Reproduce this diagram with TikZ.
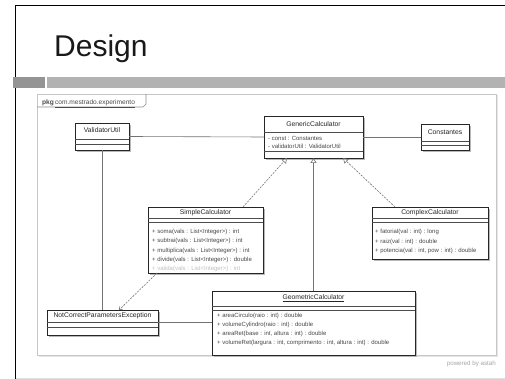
\documentclass[tikz,border=0pt]{standalone}
\usepackage{fontspec}
\setmainfont{Liberation Sans}
\usetikzlibrary{arrows.meta,calc}
\newcommand\umlbox[5]{%
  \fill[black!28] (#2+1.8,#3+1.8) rectangle ++(#4,#5);
  \node[cls, minimum width=#4pt, minimum height=#5pt] (#1) at (#2,#3) {};
}
\begin{document}
\begin{tikzpicture}[x=1pt,y=-1pt,
  cls/.style={draw=black!85, line width=0.9pt, fill=white, rectangle, inner sep=0pt, outer sep=0pt, anchor=north west},
  ttl/.style={font=\fontsize{6.8}{7}\selectfont, text=black!85, inner sep=0pt},
  mth/.style={font=\fontsize{6}{6.5}\selectfont, text=black!72, anchor=west, inner sep=0pt},
  cmp/.style={draw=black!70, line width=0.5pt},
  assoc/.style={draw=black!55, line width=0.6pt},
  real/.style={draw=black!55, line width=0.6pt, dash pattern=on 2pt off 1.2pt, -{Triangle[open,length=5pt,width=6pt]}},
  genz/.style={draw=black!55, line width=0.6pt, -{Triangle[open,length=5pt,width=6pt]}},
  dep/.style={draw=black!55, line width=0.6pt, dash pattern=on 2pt off 1.2pt, -{Straight Barb[length=2.5pt,width=4pt]}}
]
\useasboundingbox (0,0) rectangle (505,379);
\fill[white] (0,0) rectangle (505,379);
% slide
\draw[black, line width=1.1pt] (15.5,379) -- (15.5,5.5) -- (505,5.5);
\node[anchor=base west, inner sep=0pt, font=\fontsize{30}{32}\selectfont, text=black!90] (title) at (54,57) {Design};
\fill[black!42] (13,77) rectangle (45,88);
\fill[black!30] (47,77) rectangle (505,88);
\draw[black!12, line width=0.6pt] (16,378) -- (505,378);
% diagram frame
\fill[black!10] (38.5,95.5) rectangle (497.5,356.5);
\draw[black!22, line width=0.7pt, fill=white] (37,94) rectangle (496,355);
\draw[black!45, line width=0.6pt] (37,107) -- (143,107) -- (146,104) -- (146,94);
\node[anchor=base west, inner sep=0pt, font=\fontsize{6.6}{7}\selectfont, text=black!70] (pkg) at (42,104.5) {\textbf{pkg}\,\underline{com.mestrado.experimento}};
% classes
\umlbox{vu}{75}{123}{54}{27}
\draw[cmp] ($(vu.north west)+(0,16)$) -- ++(54,0);
\draw[cmp] ($(vu.north west)+(0,21)$) -- ++(54,0);
\node[ttl] at ($(vu.north)+(0,7.5)$) {ValidatorUtil};

\umlbox{gc}{264}{116}{99}{42}
\draw[cmp] ($(gc.north west)+(0,16)$) -- ++(99,0);
\draw[cmp] ($(gc.north west)+(0,35)$) -- ++(99,0);
\node[ttl] at ($(gc.north)+(0,8)$) {GenericCalculator};
\node[mth] at (268,138.5) {- const : Constantes};
\node[mth] at (268,146.5) {- validatorUtil : ValidatorUtil};

\umlbox{co}{421}{124}{48}{26}
\draw[cmp] ($(co.north west)+(0,17)$) -- ++(48,0);
\draw[cmp] ($(co.north west)+(0,21.5)$) -- ++(48,0);
\node[ttl] at ($(co.north)+(0,8.5)$) {Constantes};

\umlbox{sc}{148}{207}{115}{66}
\draw[cmp] ($(sc.north west)+(0,11)$) -- ++(115,0);
\draw[cmp] ($(sc.north west)+(0,15)$) -- ++(115,0);
\node[ttl] at ($(sc.north)+(0,5.5)$) {SimpleCalculator};
\node[mth] at (152,232) {+ soma(vals : List<Integer>) : int};
\node[mth] at (152,241) {+ subtrai(vals : List<Integer>) : int};
\node[mth] at (152,250.5) {+ multiplica(vals : List<Integer>) : int};
\node[mth] at (152,259.5) {+ divide(vals : List<Integer>) : double};
\node[mth, text=black!25] at (152,268.5) {+ valida(vals : List<Integer>) : int};

\umlbox{cc}{372}{207}{116}{52}
\draw[cmp] ($(cc.north west)+(0,11)$) -- ++(116,0);
\draw[cmp] ($(cc.north west)+(0,15)$) -- ++(116,0);
\node[ttl] at ($(cc.north)+(0,5.5)$) {ComplexCalculator};
\node[mth] at (375,232) {+ fatorial(val : int) : long};
\node[mth] at (375,241.5) {+ raiz(val : int) : double};
\node[mth] at (375,251) {+ potencia(val : int, pow : int) : double};

\umlbox{ne}{47}{310}{111}{25}
\draw[cmp] ($(ne.north west)+(0,12)$) -- ++(111,0);
\draw[cmp] ($(ne.north west)+(0,17.5)$) -- ++(111,0);
\node[ttl] at ($(ne.north)+(0,6)$) {NotCorrectParametersException};

\umlbox{gm}{212}{291}{203}{64}
\draw[cmp] ($(gm.north west)+(0,15)$) -- ++(203,0);
\draw[cmp] ($(gm.north west)+(0,19)$) -- ++(203,0);
\node[ttl] at ($(gm.north)+(0,7.5)$) {\underline{GeometricCalculator}};
\node[mth] at (217,315.5) {+ areaCirculo(raio : int) : double};
\node[mth] at (217,324.5) {+ volumeCylindro(raio : int) : double};
\node[mth] at (217,334) {+ areaRet(base : int, altura : int) : double};
\node[mth] at (217,343) {+ volumeRet(largura : int, comprimento : int, altura : int) : double};
% connectors
\draw[assoc] (vu.east) -- (gc.west);
\draw[assoc] (gc.east) -- (co.west);
\draw[assoc] (vu.south) -- (ne.north -| vu.south);
\draw[assoc] (ne.east) -- (ne.east -| gm.west);
\draw[genz] (gm.north) -- (gc.south);
\draw[real] ($(sc.north west)+(95,0)$) -- ($(gc.south west)+(23,0)$);
\draw[real] ($(cc.north west)+(23,0)$) -- ($(gc.south west)+(79,0)$);
\draw[dep] ($(sc.south west)+(9,0)$) -- ($(ne.north west)+(72,0)$);
% watermark
\node[anchor=east, inner sep=0pt, font=\fontsize{6.2}{7}\selectfont, text=black!35] (wm) at (496,364) {powered by astah};
\end{tikzpicture}
\end{document}
